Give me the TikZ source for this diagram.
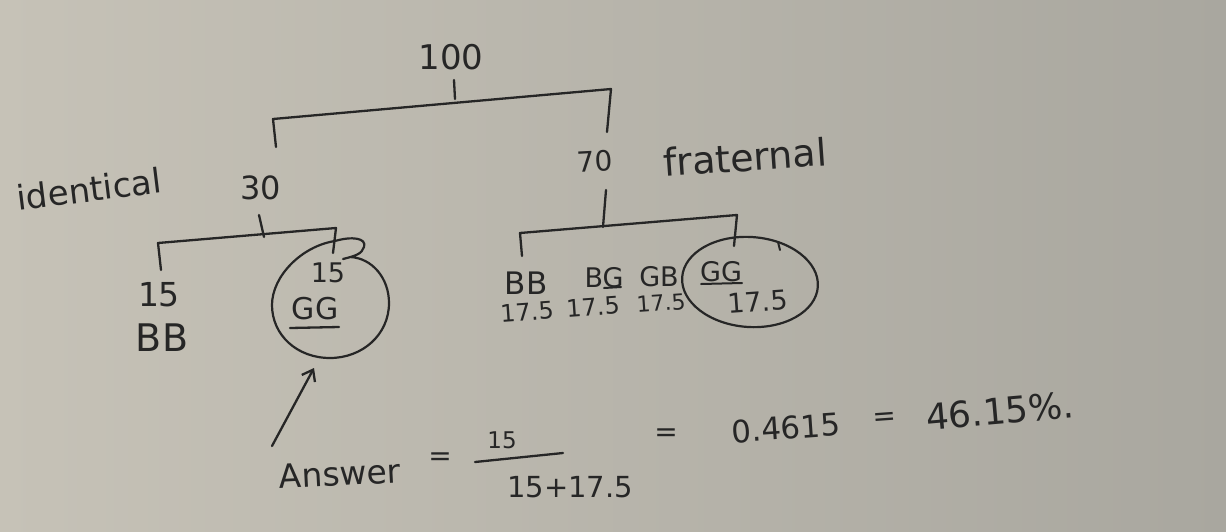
\documentclass[tikz,border=0pt]{standalone}
\usepackage{fontspec}
\setmainfont{DejaVu Sans}
\usetikzlibrary{arrows.meta,shapes.geometric}
\definecolor{inkc}{HTML}{262626}
\definecolor{bgl}{HTML}{C6C2B7}
\definecolor{bgr}{HTML}{A9A79F}
\newcommand\hsz[1]{\fontsize{#1}{#1}\selectfont}
\tikzset{
  lbl/.style={text=inkc, inner sep=0pt},
  wire/.style={draw=inkc, line width=2.3pt, line cap=round, line join=round},
  ring/.style={draw=inkc, line width=2.2pt, ellipse, inner sep=0pt},
}
\begin{document}
\begin{tikzpicture}[x=1pt,y=-1pt]
\shade[left color=bgl,right color=bgr] (0,0) rectangle (1226,531);
\useasboundingbox (0,0) rectangle (1226,531);

% root
\node[lbl,font=\hsz{34}] (n100) at (451,57) {100};
\coordinate (rtop) at (454,80);
\coordinate (rjoin) at (455,99);
\coordinate (rbl) at (273,119);
\coordinate (rbr) at (611,89);
\coordinate (rll) at (276,147);
\coordinate (rrl) at (607,132);
\draw[wire] (rtop) -- (rjoin);
\draw[wire] (rll) -- (rbl) -- (rbr) -- (rrl);

% identical branch
\node[lbl,font=\hsz{34},rotate=7] (ident) at (89,189) {identical};
\node[lbl,font=\hsz{32}] (n30) at (261,188) {30};
\coordinate (itop) at (259,215);
\coordinate (ijoin) at (264,237);
\coordinate (ibl) at (158,243);
\coordinate (ibr) at (336,228);
\coordinate (ill) at (161,270);
\coordinate (irl) at (333,253);
\draw[wire] (itop) -- (ijoin);
\draw[wire] (ill) -- (ibl) -- (ibr) -- (irl);

\node[lbl,font=\hsz{33}] (i15) at (159,295) {15};
\node[lbl,font=\hsz{38}] (iBB) at (162,338) {BB};
\node[lbl,font=\hsz{27}] (c15) at (328,273) {15};
\node[lbl,font=\hsz{30}] (cGG) at (315,309) {GG};
\draw[wire] (290,328) -- (339,327);
% hand-drawn ring round the identical GG
\draw[wire,line width=2.2pt] (350,257) .. controls (372,258) and (389,278) .. (389,303)
  .. controls (389,335) and (362,358) .. (330,358)
  .. controls (297,358) and (272,335) .. (272,305)
  .. controls (272,276) and (302,246) .. (335,241)
  .. controls (352,236) and (367,238) .. (364,247)
  .. controls (362,254) and (355,256) .. (343,259);

% fraternal branch
\node[lbl,font=\hsz{28},rotate=3] (n70) at (595,161) {70};
\node[lbl,font=\hsz{38},rotate=4] (frat) at (745,157) {fraternal};
\coordinate (ftop) at (606,190);
\coordinate (fjoin) at (603,227);
\coordinate (fbl) at (520,233);
\coordinate (fbr) at (737,215);
\coordinate (fll) at (522,256);
\coordinate (frl) at (734,246);
\draw[wire] (ftop) -- (fjoin);
\draw[wire] (fll) -- (fbl) -- (fbr) -- (frl);

\node[lbl,font=\hsz{31}] (fBB) at (526,283) {BB};
\node[lbl,font=\hsz{27}] (fBG) at (604,278) {BG};
\node[lbl,font=\hsz{27}] (fGB) at (659,277) {GB};
\node[lbl,font=\hsz{27}] (fGG) at (721,272) {GG};
\draw[wire,line width=2pt] (604,288) -- (621,287);
\draw[wire,line width=2pt] (701,284) -- (742,283);
\node[lbl,font=\hsz{24},rotate=4] (v1) at (527,312) {17.5};
\node[lbl,font=\hsz{24},rotate=4] (v2) at (593,307) {17.5};
\node[lbl,font=\hsz{22},rotate=4] (v3) at (661,303) {17.5};
\node[lbl,font=\hsz{27},rotate=4] (v4) at (758,302) {17.5};
\node[ring,minimum width=136,minimum height=90,rotate=-4] (rring) at (750,282) {};
\draw[wire,line width=2pt] (778,242) -- (780,250);

% arrow to the circled GG
\coordinate (atail) at (272,446);
\coordinate (ahead) at (314,368);
\draw[wire,-{Straight Barb[length=10pt,width=15pt]}] (atail) -- (ahead);

% answer
\node[lbl,font=\hsz{33},rotate=3] (ans) at (340,474) {Answer};
\node[lbl,font=\hsz{28}] (eq1) at (440,459) {=};
\node[lbl,font=\hsz{23}] (num) at (502,440) {15};
\coordinate (fracl) at (475,462);
\coordinate (fracr) at (563,453);
\draw[wire] (fracl) -- (fracr);
\node[lbl,font=\hsz{29}] (den) at (570,487) {15+17.5};
\node[lbl,font=\hsz{28}] (eq2) at (666,435) {=};
\node[lbl,font=\hsz{31},rotate=4] (res) at (786,428) {0.4615};
\node[lbl,font=\hsz{28},rotate=4] (eq3) at (885,419) {=};
\node[lbl,font=\hsz{36},rotate=5] (pct) at (1000,411) {46.15\%.};
\end{tikzpicture}
\end{document}
